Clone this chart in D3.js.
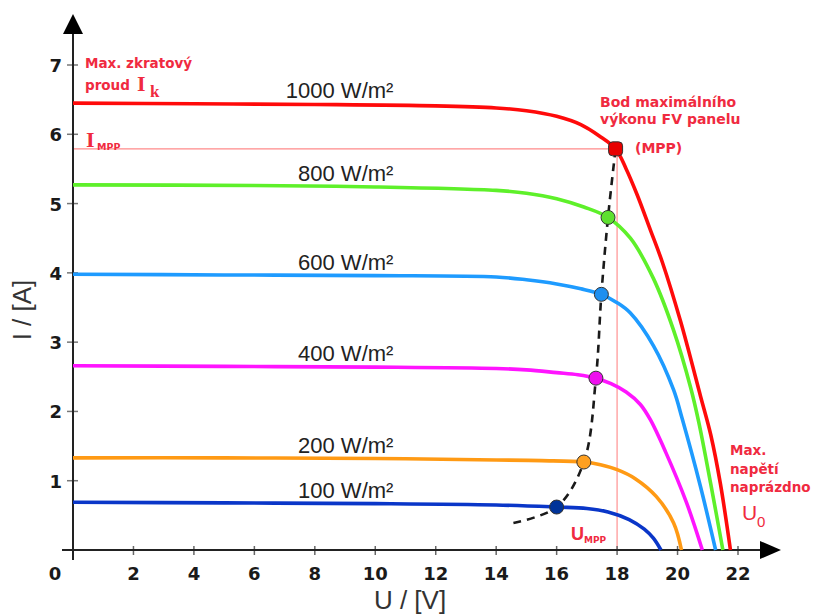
<!DOCTYPE html>
<html><head><meta charset="utf-8">
<script src="https://cdn.jsdelivr.net/npm/d3@7"></script>
<style>body{margin:0;background:#fff}</style>
</head><body><svg id="c" width="816" height="616"></svg>
<script>
// ---- data ----
const irradianceLabels = ["1000 W/m²", "800 W/m²", "600 W/m²", "400 W/m²", "200 W/m²", "100 W/m²"];
const curveColors = ["#ff0a0a", "#5ef02a", "#1e9bff", "#ff14ff", "#ff9a14", "#0a36c8"];
const markerColors = ["#e80000", "#5ee030", "#1e8ff0", "#ee10ee", "#ffa020", "#003399"];

const v1000 = [0, 4, 8, 12, 14, 15, 16, 16.8, 17.4, 17.95, 18.3, 18.67, 19.1, 19.5, 20.1, 20.76, 21.1, 21.42, 21.75];
const i1000 = [6.45, 6.44, 6.43, 6.41, 6.38, 6.34, 6.26, 6.14, 5.98, 5.79, 5.5, 5.12, 4.62, 4.15, 3.3, 2.22, 1.66, 0.95, 0];
const v800 = [0, 6, 10, 14, 15, 16, 16.9, 17.7, 18.44, 19.2, 19.87, 20.43, 20.7, 21.1, 21.5];
const i800 = [5.27, 5.26, 5.24, 5.19, 5.15, 5.07, 4.95, 4.8, 4.5, 3.92, 3.17, 2.35, 1.85, 0.95, 0];
const v600 = [0, 5, 10, 14, 15, 16, 16.8, 17.48, 18.0, 18.44, 19.2, 19.87, 20.15, 20.75, 21.26];
const i600 = [3.98, 3.97, 3.96, 3.94, 3.9, 3.84, 3.77, 3.69, 3.57, 3.42, 2.95, 2.31, 1.9, 0.93, 0];
const v400 = [0, 5, 10, 14, 15, 16, 16.7, 17.3, 17.8, 18.3, 18.77, 19.1, 19.6, 20.3, 20.82];
const i400 = [2.66, 2.65, 2.64, 2.62, 2.6, 2.56, 2.53, 2.48, 2.4, 2.28, 2.1, 1.88, 1.42, 0.68, 0];
const v200 = [0, 5, 10, 14, 15.5, 16.9, 17.45, 18.0, 18.6, 19.3, 19.87, 20.13];
const i200 = [1.33, 1.33, 1.32, 1.3, 1.29, 1.27, 1.23, 1.16, 1.03, 0.77, 0.39, 0];
const v100 = [0, 5, 10, 14, 16.0, 17.0, 17.7, 18.4, 18.9, 19.2, 19.45];
const i100 = [0.69, 0.68, 0.67, 0.65, 0.62, 0.6, 0.55, 0.44, 0.3, 0.17, 0];

const curveV = [v1000, v800, v600, v400, v200, v100];
const curveI = [i1000, i800, i600, i400, i200, i100];

// maximum power points (one per curve) and the dashed locus
const mppV = [17.95, 17.7, 17.48, 17.3, 16.9, 16.0];
const mppI = [5.79, 4.8, 3.69, 2.48, 1.27, 0.62];
const locusV = [14.57, 16.0, 16.9, 17.3, 17.48, 17.7, 17.95];
const locusI = [0.39, 0.62, 1.27, 2.48, 3.69, 4.8, 5.79];

const xTicks = [2, 4, 6, 8, 10, 12, 14, 16, 18, 20, 22];
const yTicks = [1, 2, 3, 4, 5, 6, 7];
const uMpp = 18, iMpp = 5.79;

// ---- drawing ----
const svg = d3.select("#c");
const x = d3.scaleLinear().domain([0, 22]).range([73, 738]);
const y = d3.scaleLinear().domain([0, 7]).range([550, 65]);
const red = "#f02a40";

// MPP guide lines
svg.append("line").attr("x1", x(0)).attr("x2", x(uMpp)).attr("y1", y(iMpp)).attr("y2", y(iMpp))
  .attr("stroke", "#ff8a8a").attr("stroke-width", 1.3);
svg.append("line").attr("x1", x(uMpp)).attr("x2", x(uMpp)).attr("y1", y(iMpp)).attr("y2", y(0))
  .attr("stroke", "#ff9a9a").attr("stroke-width", 1.3);

// axes
const axisCol = "#222";
const gx = svg.append("g").attr("transform", `translate(0,${y(0)})`)
  .call(d3.axisBottom(x).tickValues(xTicks).tickSize(0).tickFormat(""));
gx.select(".domain").remove();
xTicks.forEach(t => {
  svg.append("line").attr("x1", x(t)).attr("x2", x(t)).attr("y1", y(0) - 4).attr("y2", y(0) + 5)
    .attr("stroke", "#666").attr("stroke-width", 1.5);
  svg.append("text").attr("x", x(t)).attr("y", 580).attr("text-anchor", "middle")
    .attr("font-family", "DejaVu Sans").attr("font-weight", "bold").attr("font-size", 18)
    .attr("fill", "#1a1a1a").text(t);
});
svg.append("text").attr("x", 55).attr("y", 580).attr("text-anchor", "middle")
  .attr("font-family", "DejaVu Sans").attr("font-weight", "bold").attr("font-size", 18)
  .attr("fill", "#1a1a1a").text("0");
yTicks.forEach(t => {
  svg.append("line").attr("x1", 67).attr("x2", 78).attr("y1", y(t)).attr("y2", y(t))
    .attr("stroke", "#777").attr("stroke-width", 1.5);
  svg.append("text").attr("x", 62).attr("y", y(t) + 7).attr("text-anchor", "end")
    .attr("font-family", "DejaVu Sans").attr("font-weight", "bold").attr("font-size", 18)
    .attr("fill", "#1a1a1a").text(t);
});
svg.append("line").attr("x1", 62).attr("x2", 762).attr("y1", y(0)).attr("y2", y(0))
  .attr("stroke", axisCol).attr("stroke-width", 2);
svg.append("line").attr("x1", x(0)).attr("x2", x(0)).attr("y1", 560).attr("y2", 32)
  .attr("stroke", axisCol).attr("stroke-width", 2);
svg.append("path").attr("d", `M760,${y(0)-9} L781,${y(0)} L760,${y(0)+9} Z`).attr("fill", "#000");
svg.append("path").attr("d", `M${x(0)-10},34 L${x(0)},14 L${x(0)+10},34 Z`).attr("fill", "#000");

svg.append("text").attr("x", 410).attr("y", 609).attr("text-anchor", "middle")
  .attr("font-family", "Liberation Sans").attr("font-size", 26).attr("fill", "#333").text("U / [V]");
svg.append("text").attr("transform", "translate(31,310) rotate(-90)").attr("text-anchor", "middle")
  .attr("font-family", "Liberation Sans").attr("font-size", 26).attr("fill", "#333").text("I / [A]");

// curves
const line = d3.line().x(d => x(d[0])).y(d => y(d[1])).curve(d3.curveCatmullRom.alpha(0.5));
curveV.forEach((vs, k) => {
  const pts = vs.map((v, j) => [v, curveI[k][j]]);
  svg.append("path").attr("d", line(pts)).attr("fill", "none")
    .attr("stroke", curveColors[k]).attr("stroke-width", 3.6).attr("stroke-linecap", "butt");
  svg.append("text").attr("x", x(10.6)).attr("y", y(curveI[k][2]) - 6).attr("text-anchor", "end")
    .attr("font-family", "Liberation Sans").attr("font-size", 22).attr("fill", "#222")
    .text(irradianceLabels[k]);
});

// MPP locus
const locus = d3.line().x(d => x(d[0])).y(d => y(d[1])).curve(d3.curveCatmullRom);
svg.append("path").attr("d", locus(locusV.map((v, j) => [v, locusI[j]])))
  .attr("fill", "none").attr("stroke", "#1a1a1a").attr("stroke-width", 2.6).attr("stroke-dasharray", "8,6");

// markers
mppV.forEach((v, k) => {
  if (k === 0) {
    svg.append("rect").attr("x", x(v) - 7).attr("y", y(mppI[k]) - 7).attr("width", 14).attr("height", 14)
      .attr("rx", 4).attr("fill", markerColors[k]).attr("stroke", "#333").attr("stroke-width", 1);
  } else {
    svg.append("circle").attr("cx", x(v)).attr("cy", y(mppI[k])).attr("r", 7)
      .attr("fill", markerColors[k]).attr("stroke", "#333").attr("stroke-width", 1);
  }
});

// annotations
function t(xp, yp, txt, size, opts = {}) {
  return svg.append("text").attr("x", xp).attr("y", yp)
    .attr("font-family", opts.family || "DejaVu Sans").attr("font-weight", opts.weight || "bold")
    .attr("font-size", size).attr("fill", red).text(txt);
}
t(85, 68, "Max. zkratový", 13.5);
t(85, 90, "proud", 13.5);
t(137, 91, "I", 22, {family: "Liberation Serif"});
t(150, 97, "k", 17, {family: "Liberation Serif"});
t(86, 147, "I", 22, {family: "Liberation Serif"});
t(97, 150, "MPP", 9.5);
t(600, 107, "Bod maximálního", 14);
t(600, 124, "výkonu FV panelu", 14);
t(635, 153, "(MPP)", 14);
t(730, 455, "Max.", 13.5);
t(730, 474, "napětí", 13.5);
t(730, 492, "naprázdno", 13.5);
t(742, 520, "U", 21, {family: "Liberation Sans", weight: "normal"});
t(757, 527, "0", 15, {family: "Liberation Sans", weight: "normal"});
t(571, 540, "U", 18, {family: "Liberation Sans"});
t(584, 543, "MPP", 9);
</script></body></html>
